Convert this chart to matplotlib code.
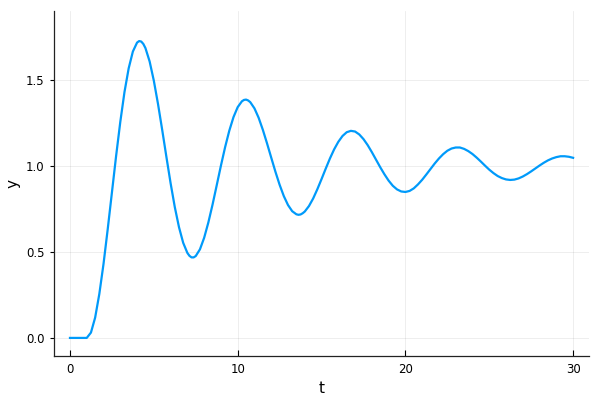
import matplotlib
matplotlib.use("Agg")
import matplotlib.pyplot as plt

# step response (t, y)
t = [0.0, 1.0,
     1.25, 1.5, 1.75, 2.0, 2.25, 2.5, 2.75, 3.0, 3.25, 3.5, 3.75, 4.0, 4.125,
     4.25, 4.375, 4.5, 4.75, 5.0, 5.25, 5.5, 5.75, 6.0, 6.25, 6.5, 6.75, 7.0, 7.125,
     7.25, 7.375, 7.5, 7.75, 8.0, 8.25, 8.5, 8.75, 9.0, 9.25, 9.5, 9.75, 10.0,
     10.25, 10.375, 10.5, 10.625, 10.75, 11.0, 11.25, 11.5, 11.75, 12.0, 12.25, 12.5,
     12.75, 13.0, 13.25, 13.5, 13.625, 13.75, 13.875, 14.0, 14.25, 14.5, 14.75, 15.0,
     15.25, 15.5, 15.75, 16.0, 16.25, 16.5, 16.75, 17.0, 17.25, 17.5, 17.75, 18.0,
     18.25, 18.5, 18.75, 19.0, 19.25, 19.5, 19.75, 20.0, 20.25, 20.5, 20.75, 21.0,
     21.25, 21.5, 21.75, 22.0, 22.25, 22.5, 22.75, 23.0, 23.25, 23.5, 23.75, 24.0,
     24.25, 24.5, 24.75, 25.0, 25.25, 25.5, 25.75, 26.0, 26.25, 26.5, 26.75, 27.0,
     27.25, 27.5, 27.75, 28.0, 28.25, 28.5, 28.75, 29.0, 29.25, 29.5, 29.75, 30.0]
y = [0.0, 0.0,
     0.031, 0.118, 0.256, 0.431, 0.633, 0.846, 1.059, 1.258, 1.432, 1.570, 1.668, 1.720, 1.729,
     1.726, 1.712, 1.688, 1.610, 1.498, 1.362, 1.211, 1.054, 0.901, 0.762, 0.645, 0.554, 0.495, 0.478,
     0.469, 0.469, 0.477, 0.516, 0.583, 0.672, 0.776, 0.889, 1.003, 1.111, 1.207, 1.286, 1.344,
     1.378, 1.386, 1.388, 1.383, 1.373, 1.337, 1.282, 1.212, 1.133, 1.050, 0.968, 0.892,
     0.826, 0.774, 0.738, 0.720, 0.717, 0.719, 0.726, 0.736, 0.768, 0.812, 0.866, 0.925,
     0.986, 1.045, 1.098, 1.142, 1.176, 1.198, 1.206, 1.202, 1.185, 1.158, 1.123, 1.082,
     1.038, 0.994, 0.953, 0.916, 0.886, 0.865, 0.853, 0.850, 0.856, 0.871, 0.894, 0.921,
     0.952, 0.984, 1.016, 1.045, 1.070, 1.090, 1.103, 1.109, 1.109, 1.101, 1.088, 1.071,
     1.050, 1.027, 1.003, 0.980, 0.960, 0.943, 0.931, 0.923, 0.920, 0.922, 0.929, 0.940,
     0.954, 0.970, 0.987, 1.004, 1.020, 1.034, 1.045, 1.053, 1.058, 1.058, 1.055, 1.049]

xticks = [0, 10, 20, 30]
yticks = [0.0, 0.5, 1.0, 1.5]
ytick_labels = ["0.0", "0.5", "1.0", "1.5"]

fig = plt.figure(figsize=(6, 4), dpi=100)
ax = fig.add_axes([0.0908, 0.111, 0.8902, 0.8615])

ax.plot(t, y, color="#009AFA", linewidth=1.6, solid_joinstyle="round")

ax.set_xlim(-0.924, 30.924)
ax.set_ylim(-0.103, 1.904)
ax.set_xticks(xticks)
ax.set_yticks(yticks)
ax.set_yticklabels(ytick_labels)

ax.grid(True, color="#000000", alpha=0.08, linewidth=0.6)
ax.set_axisbelow(True)
for side in ["top", "right"]:
    ax.spines[side].set_visible(False)
for side in ["left", "bottom"]:
    ax.spines[side].set_linewidth(0.9)
    ax.spines[side].set_color("#222222")

ax.tick_params(axis="x", direction="in", length=4, width=0.8, labelsize=8.5, pad=5)
ax.tick_params(axis="y", direction="out", length=3, width=0.8, labelsize=8.5, pad=4)

ax.set_xlabel("t", fontsize=11, labelpad=4)
ax.set_ylabel("y", fontsize=11, labelpad=4)

fig.savefig("out.png", dpi=100)
